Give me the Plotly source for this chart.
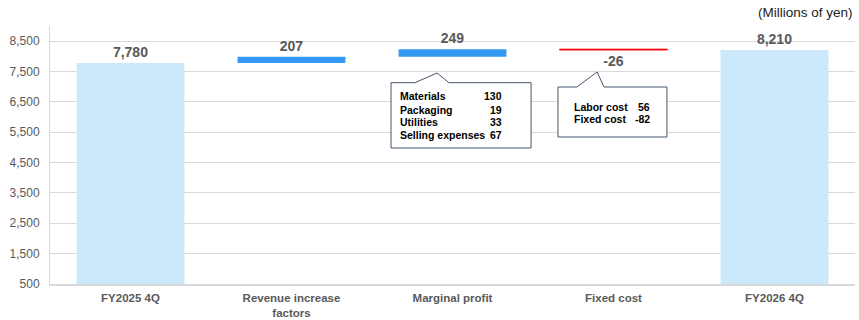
import plotly.graph_objects as go

# Operating profit bridge, FY2025 4Q -> FY2026 4Q (millions of yen)
categories = ["FY2025 4Q", "Revenue increase<br>factors", "Marginal profit", "Fixed cost", "FY2026 4Q"]
measures = ["absolute", "relative", "relative", "relative", "total"]
values = [7780, 207, 249, -26, 0]
values[-1] = sum(values[:-1])  # closing total = 8,210

# Breakdown of marginal profit and fixed cost changes
mp_items = ["Materials", "Packaging", "Utilities", "Selling expenses"]
mp_values = [130, 19, 33, 67]
fc_items = ["Labor cost", "Fixed cost"]
fc_values = [56, -82]

y_ticks = list(range(500, 9000, 1000))

GREY = "#595959"
FONT = "Liberation Sans, Arial, sans-serif"
BOX = "#44546a"

x_idx = list(range(len(categories)))

fig = go.Figure(go.Waterfall(
    x=x_idx,
    y=values,
    measure=measures,
    width=0.67,
    text=[f"{v:,}" for v in values],
    textposition="outside",
    textfont=dict(family=FONT, size=14, color=GREY, weight="bold"),
    cliponaxis=False,
    connector=dict(visible=False),
    increasing=dict(marker=dict(color="#3399f3")),
    decreasing=dict(marker=dict(color="#ff0000", line=dict(color="#ff0000", width=1))),
    totals=dict(marker=dict(color="#cce9fb")),
    hoverinfo="skip",
))


def callout(cx, x0, x1, y0, y1, p0, tip, p1, tip_y):
    """Rectangular callout with a pointer on its top edge, in data units."""
    path = (f"M {cx+x0},{y0} L {cx+p0},{y0} L {cx+tip},{tip_y} L {cx+p1},{y0} "
            f"L {cx+x1},{y0} L {cx+x1},{y1} L {cx+x0},{y1} Z")
    fig.add_shape(type="path", path=path, xref="x", yref="y",
                  line=dict(color=BOX, width=1), fillcolor="white", layer="above")


def rows(cx, lx, rx, ys, items, nums):
    for name, num, yy in zip(items, nums, ys):
        fig.add_annotation(x=cx + lx, y=yy, xref="x", yref="y", text=name,
                           xanchor="left", yanchor="middle", showarrow=False,
                           font=dict(family=FONT, size=10.5, color="#000", weight="bold"))
        fig.add_annotation(x=cx + rx, y=yy, xref="x", yref="y", text=f"{num}",
                           xanchor="right", yanchor="middle", showarrow=False,
                           font=dict(family=FONT, size=10.5, color="#000", weight="bold"))


# Marginal profit breakdown
callout(2, -0.382, 0.488, 7132, 4981, -0.233, -0.096, -0.022, 7452)
rows(2, -0.338, 0.322, [6704, 6249, 5837, 5425], mp_items, mp_values)

# Fixed cost breakdown
callout(3, -0.345, 0.332, 6990, 5343, -0.227, -0.102, -0.059, 7485)
rows(3, -0.258, 0.24, [6331, 5936], fc_items, fc_values)

fig.add_annotation(x=1, y=1.054, xref="paper", yref="paper", text="(Millions of yen)",
                   xanchor="right", yanchor="middle", showarrow=False,
                   font=dict(family=FONT, size=13.5, color="#222"))

fig.update_layout(
    width=859, height=320,
    margin=dict(l=50, r=4, t=26, b=36),
    paper_bgcolor="white", plot_bgcolor="white",
    showlegend=False,
    xaxis=dict(
        range=[-0.5, 4.5], tickvals=x_idx, ticktext=categories,
        tickfont=dict(family=FONT, size=11.5, color=GREY, weight="bold"),
        showgrid=False, zeroline=False, showline=True, linecolor="#d9d9d9", linewidth=2,
        ticks="", ticklabelstandoff=2, automargin=False, fixedrange=True,
    ),
    yaxis=dict(
        range=[500, 9000], tickvals=y_ticks, tickformat=",",
        tickfont=dict(family=FONT, size=12, color=GREY),
        showgrid=True, gridcolor="#d9d9d9", gridwidth=1, zeroline=False,
        showline=True, linecolor="#d9d9d9", linewidth=1, ticks="", ticklabelstandoff=7,
        automargin=False,
    ),
)

fig.write_html("out.html")
